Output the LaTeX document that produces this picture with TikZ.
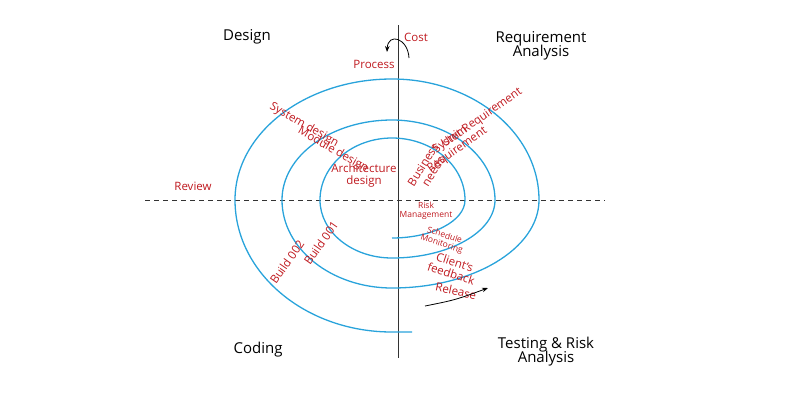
\documentclass[tikz,border=0pt]{standalone}
\usepackage{fontspec}
\setmainfont{Open Sans}
\usetikzlibrary{arrows.meta}
\definecolor{spiralblue}{rgb}{0.16,0.64,0.86}
\definecolor{labelred}{rgb}{0.75,0.1,0.12}
\begin{document}
\begin{tikzpicture}[x=1pt,y=-1pt,
  phase/.style={font=\fontsize{15}{16}\selectfont,align=center},
  steplabel/.style={text=labelred,font=\fontsize{11.5}{12}\selectfont,align=center,inner sep=0},
  smallstep/.style={text=labelred,font=\fontsize{8.5}{9}\selectfont,align=center,inner sep=0}]
  \useasboundingbox (0,0) rectangle (800,400);
  % axes
  \coordinate (axtop) at (398,25);
  \coordinate (axbot) at (398,358);
  \coordinate (revl) at (145,200);
  \coordinate (revr) at (605,200);
  \draw[black!80] (axtop) -- (axbot);
  \draw[black!80,dashed,dash pattern=on 5pt off 4pt] (revl) -- (revr);
  % spiral
  \draw[spiralblue,line width=1.3pt] (392,238)
    arc[start angle=90,end angle=0,x radius=73,y radius=38]
    arc[start angle=0,end angle=-90,x radius=73,y radius=62]
    arc[start angle=-90,end angle=-180,x radius=72,y radius=62]
    arc[start angle=-180,end angle=-270,x radius=72,y radius=58]
    arc[start angle=90,end angle=0,x radius=103,y radius=58]
    arc[start angle=0,end angle=-90,x radius=103,y radius=80]
    arc[start angle=-90,end angle=-180,x radius=110,y radius=80]
    arc[start angle=-180,end angle=-270,x radius=110,y radius=88]
    arc[start angle=90,end angle=0,x radius=147,y radius=88]
    arc[start angle=0,end angle=-90,x radius=147,y radius=121]
    arc[start angle=-90,end angle=-180,x radius=157,y radius=121]
    arc[start angle=-180,end angle=-270,x radius=157,y radius=132]
    -- ++(20,0);
  % quadrants
  \node[phase] (design) at (247,37) {Design};
  \node[phase] (reqan) at (541,46) {Requirement\\[-2pt]Analysis};
  \node[phase] (coding) at (258,350) {Coding};
  \node[phase] (testan) at (546,352) {Testing \& Risk\\[-2pt]Analysis};
  % axis labels
  \node[steplabel] (cost) at (416,37) {Cost};
  \node[steplabel] (process) at (374,64) {Process};
  \node[steplabel] (review) at (193,186) {Review};
  \coordinate (costa) at (409,58);
  \coordinate (costb) at (387,52);
  \draw[-{Stealth[length=6pt]},thick] (costa) .. controls (408,38) and (388,32) .. (costb);
  % steps
  \node[steplabel,rotate=-30] (sysdes) at (304,125) {System design};
  \node[steplabel,rotate=-30] (moddes) at (333,150) {Module design};
  \node[steplabel] (archdes) at (364,176) {Architecture\\design};
  \node[steplabel,rotate=35] (unitreq) at (482,118) {Unit Requirement};
  \node[steplabel,rotate=35] (sysreq) at (454,145) {System\\Requirement};
  \node[steplabel,rotate=58] (busneed) at (428,168) {Business\\needs};
  \node[smallstep] (riskman) at (426,211) {Risk\\Management};
  \node[smallstep,rotate=-18] (schedmon) at (443,240) {Schedule\\Monitoring};
  \node[steplabel,rotate=-18] (clientfb) at (453,268) {Client's\\feedback};
  \node[steplabel,rotate=-12] (release) at (456,291) {Release};
  \node[steplabel,rotate=55] (build1) at (321,243) {Build 001};
  \node[steplabel,rotate=55] (build2) at (287,262) {Build 002};
  \coordinate (rela) at (425,306);
  \coordinate (relb) at (488,288);
  \draw[-{Stealth[length=6pt]},thick] (rela) .. controls (455,300) .. (relb);
\end{tikzpicture}
\end{document}
